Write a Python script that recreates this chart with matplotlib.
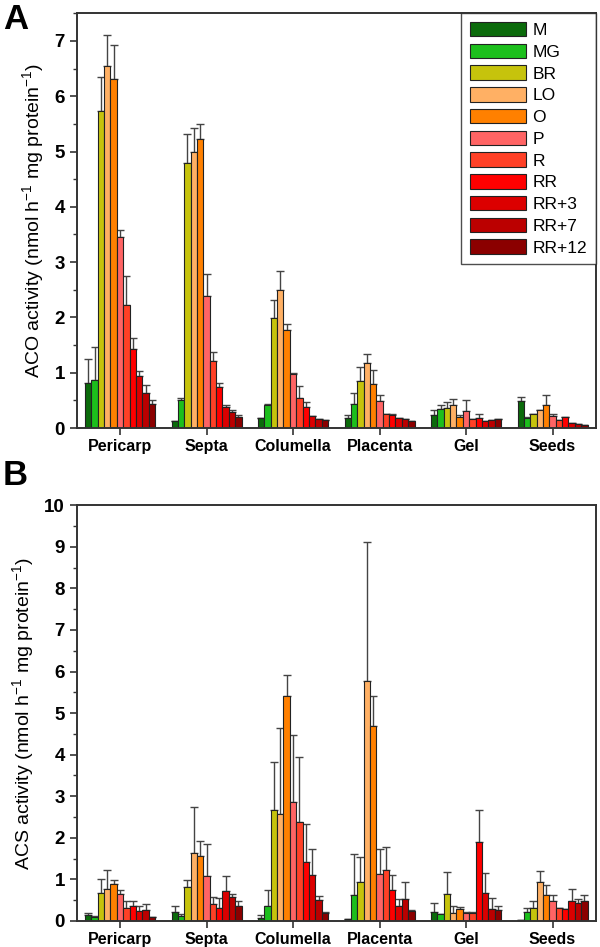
import numpy as np
import matplotlib.pyplot as plt
from matplotlib.ticker import MultipleLocator

plt.rcParams['font.family'] = ['Liberation Sans', 'DejaVu Sans']
plt.rcParams['mathtext.fontset'] = 'custom'
plt.rcParams['mathtext.rm'] = 'Liberation Sans'
plt.rcParams['mathtext.default'] = 'regular'

tissues = ['Pericarp', 'Septa', 'Columella', 'Placenta', 'Gel', 'Seeds']
stages = ['M', 'MG', 'BR', 'LO', 'O', 'P', 'R', 'RR', 'RR+3', 'RR+7', 'RR+12']
colors = ['#0b6b0b', '#1cbf1c', '#c6c30c', '#ffb064', '#ff8000', '#ff6464',
          '#ff4026', '#ff0000', '#dc0000', '#bb0000', '#8b0000']

# ACO activity: rows = tissues, columns = stages
aco_mean = [
    [0.81, 0.86, 5.74, 6.55, 6.31, 3.45, 2.23, 1.43, 0.95, 0.64, 0.44],
    [0.13, 0.50, 4.79, 4.99, 5.22, 2.39, 1.22, 0.74, 0.38, 0.29, 0.20],
    [0.18, 0.41, 1.99, 2.50, 1.78, 0.98, 0.55, 0.38, 0.22, 0.16, 0.14],
    [0.18, 0.43, 0.85, 1.17, 0.80, 0.48, 0.25, 0.23, 0.19, 0.155, 0.12],
    [0.23, 0.34, 0.36, 0.41, 0.20, 0.30, 0.16, 0.19, 0.12, 0.14, 0.16],
    [0.49, 0.18, 0.26, 0.33, 0.41, 0.21, 0.15, 0.20, 0.09, 0.08, 0.06],
]
aco_err = [
    [0.44, 0.60, 0.60, 0.55, 0.62, 0.13, 0.52, 0.20, 0.09, 0.13, 0.06],
    [0.0, 0.05, 0.53, 0.44, 0.27, 0.40, 0.16, 0.07, 0.04, 0.03, 0.04],
    [0.0, 0.02, 0.33, 0.34, 0.11, 0.02, 0.21, 0.09, 0.0, 0.0, 0.0],
    [0.06, 0.21, 0.25, 0.16, 0.25, 0.11, 0.01, 0.02, 0.0, 0.0, 0.0],
    [0.10, 0.07, 0.11, 0.12, 0.03, 0.20, 0.0, 0.06, 0.0, 0.0, 0.0],
    [0.07, 0.02, 0.0, 0.0, 0.19, 0.04, 0.0, 0.0, 0.0, 0.0, 0.0],
]

# ACS activity
acs_mean = [
    [0.14, 0.10, 0.68, 0.76, 0.89, 0.66, 0.31, 0.36, 0.23, 0.26, 0.10],
    [0.21, 0.11, 0.81, 1.63, 1.56, 1.07, 0.40, 0.30, 0.71, 0.57, 0.35],
    [0.08, 0.35, 2.66, 2.57, 5.40, 2.86, 2.39, 1.41, 1.10, 0.50, 0.19],
    [0.04, 0.62, 0.94, 5.76, 4.68, 1.14, 1.22, 0.75, 0.35, 0.54, 0.23],
    [0.22, 0.16, 0.65, 0.19, 0.28, 0.19, 0.20, 1.91, 0.67, 0.28, 0.26],
    [0.02, 0.21, 0.30, 0.93, 0.63, 0.49, 0.30, 0.28, 0.47, 0.43, 0.47],
]
acs_err = [
    [0.06, 0.02, 0.33, 0.46, 0.10, 0.09, 0.17, 0.13, 0.13, 0.15, 0.0],
    [0.15, 0.05, 0.18, 1.12, 0.37, 0.78, 0.18, 0.26, 0.36, 0.09, 0.14],
    [0.07, 0.39, 1.17, 2.08, 0.51, 1.61, 1.56, 0.93, 0.62, 0.10, 0.03],
    [0.0, 1.00, 0.60, 3.36, 0.74, 0.60, 0.56, 0.36, 0.19, 0.40, 0.03],
    [0.21, 0.0, 0.52, 0.16, 0.05, 0.03, 0.02, 0.76, 0.48, 0.28, 0.10],
    [0.0, 0.09, 0.17, 0.27, 0.24, 0.14, 0.0, 0.0, 0.31, 0.11, 0.15],
]

fig = plt.figure(figsize=(6.0, 9.47), dpi=100)
axA = fig.add_axes([0.128, 0.548, 0.865, 0.438])
axB = fig.add_axes([0.128, 0.0275, 0.865, 0.439])

n = len(stages)
w = 0.81 / n
x = np.arange(len(tissues))


def draw(ax, mean, err, ymax, ylabel):
    mean = np.array(mean)
    err = np.array(err)
    for j in range(n):
        xs = x - 0.405 + w * (j + 0.5)
        ax.bar(xs, mean[:, j], width=w, color=colors[j], edgecolor='#222222',
               linewidth=0.8, label=stages[j], zorder=2)
        ax.errorbar(xs, mean[:, j], yerr=[np.zeros(len(x)), err[:, j]], fmt='none',
                    ecolor='#444444', elinewidth=1.0, capsize=3, capthick=1.0, zorder=1)
    ax.set_xlim(-0.5, len(tissues) - 0.5)
    ax.set_ylim(0, ymax)
    ax.set_xticks(x)
    ax.set_xticklabels(tissues, fontsize=11.5, fontweight='bold')
    ax.yaxis.set_major_locator(MultipleLocator(1))
    ax.yaxis.set_minor_locator(MultipleLocator(0.5))
    for lab in ax.get_yticklabels():
        lab.set_fontweight('bold')
        lab.set_fontsize(13.5)
    ax.tick_params(axis='both', which='major', length=5, width=1.2, color='#333333')
    ax.tick_params(axis='y', which='minor', length=3, width=1.0, color='#333333')
    ax.tick_params(axis='x', pad=3)
    for s in ax.spines.values():
        s.set_linewidth(1.4)
        s.set_color('#333333')
    ax.set_ylabel(ylabel, fontsize=14, labelpad=6)


draw(axA, aco_mean, aco_err, 7.5, 'ACO activity (nmol h$^{-1}$ mg protein$^{-1}$)')
draw(axB, acs_mean, acs_err, 10, 'ACS activity (nmol h$^{-1}$ mg protein$^{-1}$)')

leg = axA.legend(loc='upper right', fontsize=12.5, frameon=True, fancybox=False,
                 borderaxespad=0, handlelength=3.2, handleheight=0.9,
                 labelspacing=0.32, handletextpad=0.4, borderpad=0.5)
leg.get_frame().set_edgecolor('#222222')
leg.get_frame().set_linewidth(1.0)

fig.text(0.005, 0.997, 'A', fontsize=25, fontweight='bold', va='top', ha='left')
fig.text(0.005, 0.515, 'B', fontsize=25, fontweight='bold', va='top', ha='left')

fig.savefig('out.png', dpi=100)
